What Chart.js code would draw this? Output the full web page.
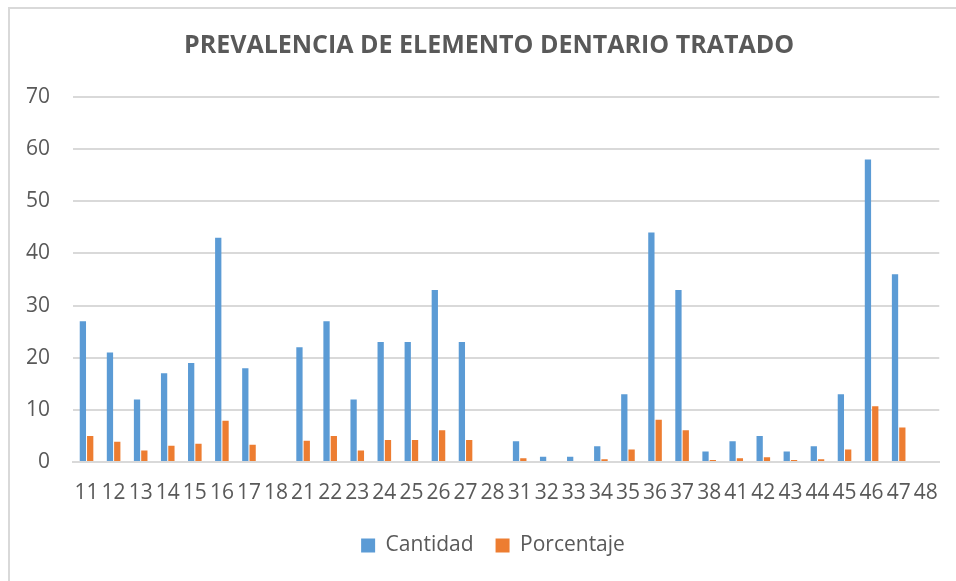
<!DOCTYPE html>
<html>
<head>
<meta charset="utf-8">
<script src="https://cdn.jsdelivr.net/npm/chart.js@4/dist/chart.umd.min.js"></script>
<style>
    html, body { margin: 0; padding: 0; background: #fff; }
    #wrap { position: relative; width: 956px; height: 581px; overflow: hidden; }
    #frame { position: absolute; left: 8px; top: 7px; width: 1000px; height: 1000px; border: 2px solid #d9d9d9; box-sizing: border-box; }
    #chart { position: absolute; left: 0; top: 0; }
</style>
</head>
<body>
<div id="wrap">
    <div id="frame"></div>
    <canvas id="chart" width="956" height="581"></canvas>
</div>
<script>
// 치아 번호 (FDI)
var categories = ["11", "12", "13", "14", "15", "16", "17", "18",
    "21", "22", "23", "24", "25", "26", "27", "28",
    "31", "32", "33", "34", "35", "36", "37", "38",
    "41", "42", "43", "44", "45", "46", "47", "48"];

// Cantidad
var cantidad = [27, 21, 12, 17, 19, 43, 18, 0,
    22, 27, 12, 23, 23, 33, 23, 0,
    4, 1, 1, 3, 13, 44, 33, 2,
    4, 5, 2, 3, 13, 58, 36, 0];

// Porcentaje
var porcentaje = [4.98, 3.87, 2.21, 3.14, 3.51, 7.93, 3.32, 0,
    4.06, 4.98, 2.21, 4.24, 4.24, 6.09, 4.24, 0,
    0.74, 0.18, 0.18, 0.55, 2.40, 8.12, 6.09, 0.37,
    0.74, 0.92, 0.37, 0.55, 2.40, 10.70, 6.64, 0];

var yTicks = [0, 10, 20, 30, 40, 50, 60, 70];

var FONT = "'Open Sans', 'Noto Sans', sans-serif";
var TEXT_COLOR = '#595959';
var GRID_COLOR = '#d9d9d9';

// 제목과 범례를 원본처럼 약간 오른쪽으로 이동
var boxShift = {
    id: 'boxShift',
    afterLayout: function (chart) {
        chart.legend.left += 19;
        chart.legend.right += 19;
        chart.titleBlock.left += 15;
        chart.titleBlock.right += 15;
    }
};

new Chart(document.getElementById('chart'), {
    type: 'bar',
    data: {
        labels: categories,
        datasets: [{
            label: 'Cantidad',
            data: cantidad,
            backgroundColor: '#5b9bd5',
            categoryPercentage: 0.54,
            barPercentage: 0.86
        }, {
            label: 'Porcentaje',
            data: porcentaje,
            backgroundColor: '#ed7d31',
            categoryPercentage: 0.54,
            barPercentage: 0.86
        }]
    },
    plugins: [boxShift],
    options: {
        responsive: false,
        animation: false,
        layout: {
            padding: {left: 8, top: 10, right: 16, bottom: 15}
        },
        plugins: {
            title: {
                display: true,
                text: 'PREVALENCIA DE ELEMENTO DENTARIO TRATADO',
                color: TEXT_COLOR,
                font: {family: FONT, size: 25, weight: 'bold'},
                padding: {top: 21, bottom: 36}
            },
            legend: {
                position: 'bottom',
                labels: {
                    color: TEXT_COLOR,
                    font: {family: FONT, size: 21},
                    boxWidth: 14,
                    boxHeight: 14,
                    padding: 22
                }
            },
            tooltip: {enabled: false}
        },
        scales: {
            x: {
                grid: {display: false, drawTicks: false},
                border: {color: GRID_COLOR, width: 2},
                ticks: {
                    color: TEXT_COLOR,
                    font: {family: FONT, size: 21},
                    autoSkip: false,
                    maxRotation: 0,
                    padding: 18
                },
                afterFit: function (scale) {
                    scale.height = 51;
                }
            },
            y: {
                min: 0,
                max: 70,
                grid: {color: GRID_COLOR, lineWidth: 2, drawTicks: false},
                border: {display: false},
                afterBuildTicks: function (scale) {
                    scale.ticks = yTicks.map(function (v) { return {value: v}; });
                },
                ticks: {
                    color: TEXT_COLOR,
                    font: {family: FONT, size: 21},
                    padding: 23
                },
                afterFit: function (scale) {
                    scale.width = 65;
                }
            }
        }
    }
});
</script>
</body>
</html>
